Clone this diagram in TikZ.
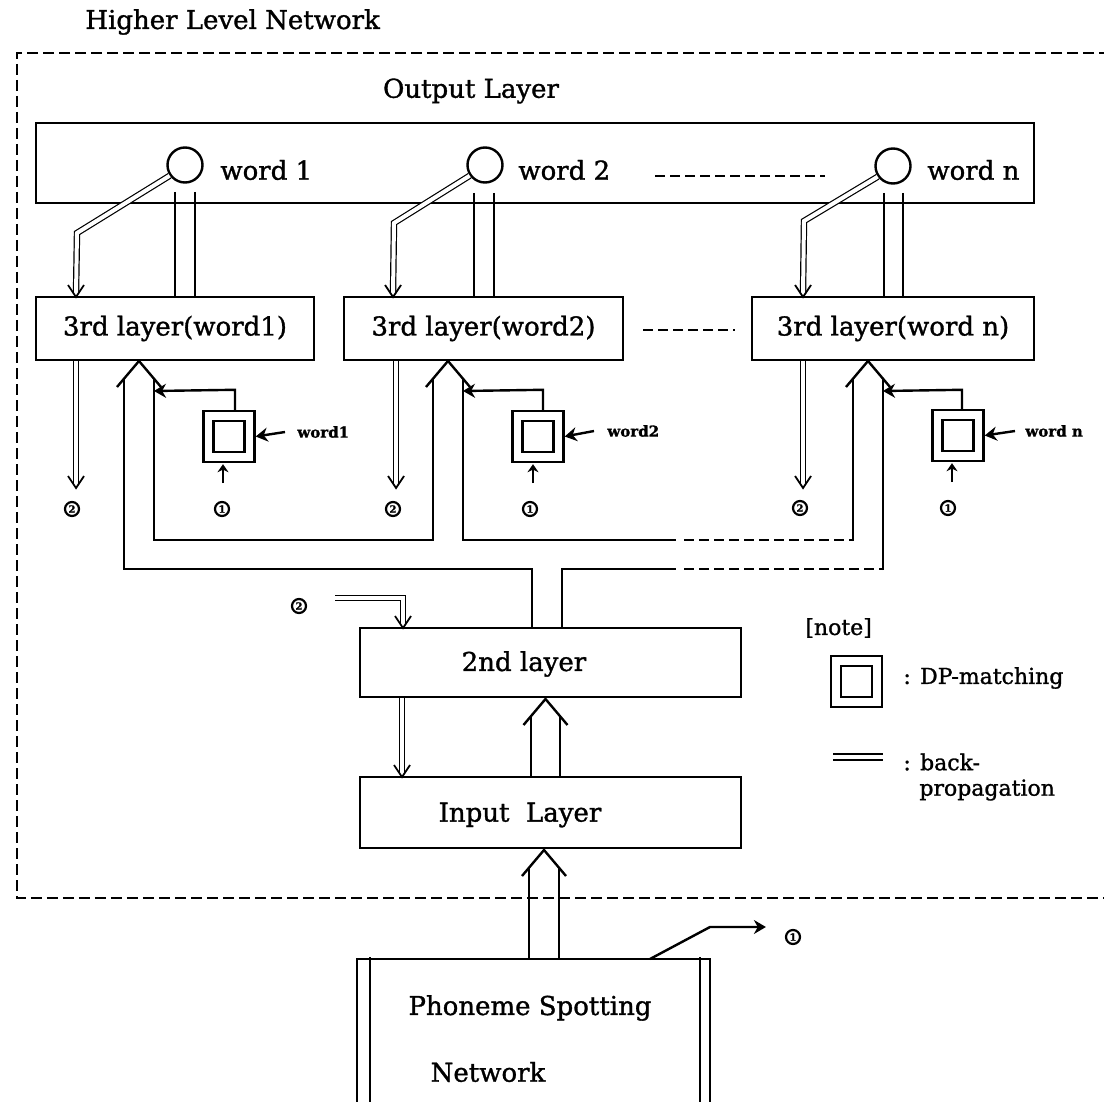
\documentclass[tikz,border=0pt]{standalone}
\usepackage{fontspec}
\setmainfont{DejaVu Serif}[RawFeature={embolden=1.2}]
\usetikzlibrary{arrows.meta,calc}
\begin{document}
\begin{tikzpicture}[x=0.5pt,y=-0.5pt,
  box/.style={draw,line width=1.2pt,inner sep=0pt},
  lbl/.style={font=\fontsize{13}{15}\selectfont,inner sep=0pt},
  leg/.style={font=\fontsize{11}{13}\selectfont,inner sep=0pt},
  sml/.style={font=\fontsize{7.5}{9}\selectfont\bfseries,inner sep=0pt},
  bus/.style={line width=1.2pt},
  thinl/.style={line width=0.8pt},
  dbl/.style={double,double distance=2pt,line width=0.6pt},
  vtip/.style={line width=0.9pt},
  fa/.style={line width=1.2pt,-{Stealth[length=6pt,width=7pt]}},
  fb/.style={line width=1.2pt,-{Stealth[length=4pt,width=5.5pt]}},
  cnum/.style={circle,draw,line width=1.1pt,inner sep=0pt,minimum size=7pt,font=\fontsize{5}{5}\selectfont\bfseries},
  dpo/.style={draw,line width=1.2pt,minimum size=25.5pt,inner sep=0pt},
  dpi/.style={draw,line width=1.2pt,minimum size=15.5pt,inner sep=0pt},
  unit/.style={circle,draw,line width=1.2pt,minimum size=17.5pt,inner sep=0pt},
  framel/.style={line width=1.1pt,dash pattern=on 5.5pt off 2.5pt},
  sepl/.style={line width=1.2pt,dash pattern=on 5pt off 2.5pt},
  vdown/.pic={\draw[vtip] (-8,-12) -- (0,0) -- (8,-12);},
  vup/.pic={\draw[bus] (-22,26) -- (0,0) -- (22,26);}
]
\useasboundingbox (0,0) rectangle (1104,1102);
\fill[white] (0,0) rectangle (1104,1102);
\clip (0,0) rectangle (1104,1102);

% title and frame
\node[lbl,anchor=west] (title) at (85,22) {Higher Level Network};
\draw[framel] (1110,53) -- (17,53) -- (17,898) -- (1110,898);

% output layer
\node[lbl] (outlbl) at (471,91) {Output Layer};
\node[box,minimum width=499pt,minimum height=40pt] (out) at (535,163) {};
\node[unit] (c1) at (185,165) {};
\node[unit] (c2) at (485,165) {};
\node[unit] (cn) at (893,166) {};
\node[lbl,anchor=west] (w1) at (220,170) {word 1};
\node[lbl,anchor=west] (w2) at (518,170) {word 2};
\node[lbl,anchor=west] (wn) at (927,170) {word n};
\coordinate (s1a) at (655,176);
\coordinate (s1b) at (825,176);
\draw[sepl] (s1a) -- (s1b);

% third layers
\node[box,lbl,minimum width=139pt,minimum height=31.5pt] (L3a) at (175,328.5) {3rd layer(word1)};
\node[box,lbl,minimum width=139.5pt,minimum height=31.5pt] (L3b) at (483.5,328.5) {3rd layer(word2)};
\node[box,lbl,minimum width=141pt,minimum height=31.5pt] (L3n) at (893,328.5) {3rd layer(word n)};
\coordinate (s2a) at (643,330);
\coordinate (s2b) at (735,330);
\draw[sepl] (s2a) -- (s2b);

% back-propagation from output units to 3rd layers
\coordinate (k1) at (77,233);
\coordinate (t1) at (76,297);
\draw[dbl] (c1.215) -- (k1) -- ($(t1)+(0,-3)$);
\pic at (t1) {vdown};
\coordinate (k2) at (394,223);
\coordinate (t2) at (393,297);
\draw[dbl] (c2.215) -- (k2) -- ($(t2)+(0,-3)$);
\pic at (t2) {vdown};
\coordinate (k3) at (804,221);
\coordinate (t3) at (803,297);
\draw[dbl] (cn.215) -- (k3) -- ($(t3)+(0,-3)$);
\pic at (t3) {vdown};

% forward lines from 3rd layers to output units
\draw[thinl] (175,192) -- (175,297);
\draw[thinl] (195,192) -- (195,297);
\draw[thinl] (474,193) -- (474,297);
\draw[thinl] (494,193) -- (494,297);
\draw[thinl] (884,193) -- (884,297);
\draw[thinl] (903,193) -- (903,297);

% back-propagation out of 3rd layers
\coordinate (d1) at (76,488);
\draw[dbl] (76,361) -- ($(d1)+(0,-3)$);
\pic at (d1) {vdown};
\node[cnum] (n2a) at (72,509) {2};
\coordinate (d2) at (396,488);
\draw[dbl] (396,361) -- ($(d2)+(0,-3)$);
\pic at (d2) {vdown};
\node[cnum] (n2b) at (393,509) {2};
\coordinate (d3) at (803,488);
\draw[dbl] (803,361) -- ($(d3)+(0,-3)$);
\pic at (d3) {vdown};
\node[cnum] (n2c) at (800,508) {2};

% up arrows into 3rd layers
\coordinate (a1) at (139,361);
\coordinate (a2) at (448,361);
\coordinate (an) at (868,361);
\pic at (a1) {vup};
\pic at (a2) {vup};
\pic at (an) {vup};

% bus lines
\coordinate (b1) at (532,628);
\coordinate (b2) at (562,628);
\draw[bus] (b1) -- (532,569) -- (124,569) -- (124,379);
\draw[bus] (154,379) -- (154,540) -- (433,540) -- (433,379);
\draw[bus] (463,379) -- (463,540) -- (676,540);
\draw[bus,dash pattern=on 5pt off 2.5pt] (684,540) -- (853,540);
\draw[bus] (853,541) -- (853,379);
\draw[bus] (b2) -- (562,569) -- (676,569);
\draw[bus,dash pattern=on 5pt off 2.5pt] (684,569) -- (883,569);
\draw[bus] (883,570) -- (883,379);

% DP-matching boxes
\node[dpo] (dp1) at (229,436.5) {};
\node[dpi] (dp1i) at (229,436.5) {};
\node[dpo] (dp2) at (538,436.5) {};
\node[dpi] (dp2i) at (538,436.5) {};
\node[dpo] (dpn) at (958,435.5) {};
\node[dpi] (dpni) at (958,435.5) {};
\draw[fa] ($(dp1.north)+(6,0)$) -- ++(0,-20) -- (154,391);
\draw[fa] ($(dp2.north)+(5,0)$) -- ++(0,-20) -- (463,391);
\draw[fa] ($(dpn.north)+(4,0)$) -- ++(0,-19) -- (883,391);
\node[sml,anchor=west] (sw1) at (297,432) {word1};
\node[sml,anchor=west] (sw2) at (607,431) {word2};
\node[sml,anchor=west] (swn) at (1025,431) {word n};
\draw[fa] ($(sw1.west)+(-12,0)$) -- (dp1.east);
\draw[fa] ($(sw2.west)+(-13,0)$) -- (dp2.east);
\draw[fa] ($(swn.west)+(-10,0)$) -- (dpn.east);
\node[cnum] (n1a) at (222,509) {1};
\node[cnum] (n1b) at (530,509) {1};
\node[cnum] (n1c) at (948,508) {1};
\draw[fb] ($(dp1.south)+(-6,20)$) -- ($(dp1.south)+(-6,1)$);
\draw[fb] ($(dp2.south)+(-5,20)$) -- ($(dp2.south)+(-5,1)$);
\draw[fb] ($(dpn.south)+(-6,20)$) -- ($(dpn.south)+(-6,1)$);

% 2nd layer and input layer
\node[box,minimum width=190.5pt,minimum height=34.5pt] (L2) at (550.5,662.5) {};
\node[lbl] (L2t) at (524,664) {2nd layer};
\node[box,minimum width=190.5pt,minimum height=35.5pt] (LI) at (550.5,812.5) {};
\node[lbl] (LIt) at (520,815) {Input\ \ Layer};

\node[cnum] (n2d) at (299,606) {2};
\coordinate (e1) at (335,598);
\coordinate (e2) at (403,628);
\draw[dbl] (e1) -- (403,598) -- ($(e2)+(0,-3)$);
\pic at (e2) {vdown};

\coordinate (e3) at (402,777);
\draw[dbl] (402,698) -- ($(e3)+(0,-3)$);
\pic at (e3) {vdown};

\coordinate (u1) at (545.5,699);
\draw[bus] (531,777) -- (531,717);
\draw[bus] (560,777) -- (560,717);
\pic at (u1) {vup};

% phoneme spotting network
\coordinate (ps1) at (357,1115);
\coordinate (ps2) at (710,1115);
\draw[bus] (ps1) -- (357,959) -- (710,959) -- (ps2);
\draw[thinl] (370,957) -- (370,1115);
\draw[thinl] (700,957) -- (700,1115);
\node[lbl] (pst1) at (530,1008) {Phoneme Spotting};
\node[lbl] (pst2) at (488,1072) {Network};

\coordinate (u2) at (544,850);
\draw[bus] (529,959) -- (529,868);
\draw[bus] (559,959) -- (559,868);
\pic at (u2) {vup};

\node[cnum] (n1d) at (793,937) {1};
\draw[fa] (650,959) -- (710,927) -- ($(n1d.west)+(-19,-10)$);

% note
\node[leg,anchor=west] (note) at (805,628) {[note]};
\node[dpo] (ldp) at (856.5,681.5) {};
\node[dpi] (ldpi) at (856.5,681.5) {};
\node[leg,anchor=west] (ldpt) at (903,678) {: DP-matching};
\coordinate (lb1) at (833,757);
\coordinate (lb2) at (883,757);
\draw[double,double distance=2pt,line width=1pt] (lb1) -- (lb2);
\node[leg,anchor=west] (lbt1) at (903,762) {: back-};
\node[leg,anchor=west] (lbt2) at (919,790) {propagation};
\end{tikzpicture}
\end{document}
